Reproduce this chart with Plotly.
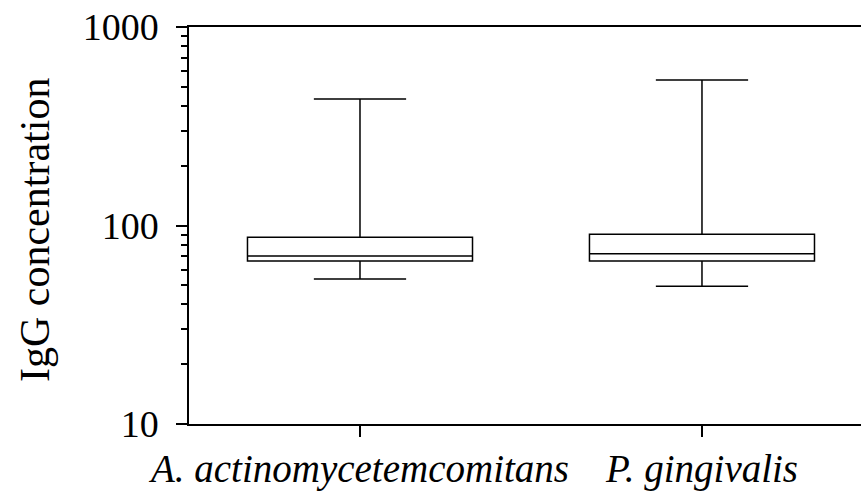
import plotly.graph_objects as go

categories = ["A. actinomycetemcomitans", "P. gingivalis"]
lower_whisker = [53.8, 49.4]
q1_values = [66.2, 66.2]
median_values = [70.2, 72.1]
q3_values = [87.2, 90.3]
upper_whisker = [434, 541]
y_tick_values = [10, 100, 1000]
y_tick_labels = ["10", "100", "1000"]
y_minor_values = [v * d for d in (10, 100) for v in range(2, 10)]

FONT = "Liberation Serif"

fig = go.Figure()
fig.add_trace(go.Box(
    x=categories,
    q1=q1_values,
    median=median_values,
    q3=q3_values,
    lowerfence=lower_whisker,
    upperfence=upper_whisker,
    width=0.658,
    whiskerwidth=0.41,
    fillcolor="white",
    line=dict(color="black", width=1.5),
    boxpoints=False,
    showlegend=False,
))

fig.update_layout(
    width=861, height=495,
    margin=dict(l=189, r=0, t=27, b=71),
    plot_bgcolor="white", paper_bgcolor="white",
    font=dict(family=FONT, color="black"),
    xaxis=dict(
        type="category",
        range=[-0.5, 1.465],
        tickvals=categories,
        ticktext=["<i>" + c + "</i>" for c in categories],
        ticks="outside", ticklen=11, tickwidth=1.5, tickcolor="black",
        showline=True, linecolor="black", linewidth=1.5, mirror=True,
        showgrid=False, zeroline=False,
        tickfont=dict(family=FONT, size=39, color="black"),
        ticklabelstandoff=-2,
    ),
    yaxis=dict(
        type="log",
        range=[1, 3],
        tickvals=y_tick_values,
        ticktext=y_tick_labels,
        ticks="outside", ticklen=11, tickwidth=1.5, tickcolor="black",
        minor=dict(tickvals=y_minor_values, ticks="outside", ticklen=6,
                   tickwidth=1.5, tickcolor="black", showgrid=False),
        showline=True, linecolor="black", linewidth=1.5,
        showgrid=False, zeroline=False,
        tickfont=dict(family=FONT, size=38, color="black"),
        ticklabelstandoff=10,
    ),
    annotations=[dict(
        text="IgG concentration",
        xref="paper", yref="paper",
        x=(35 - 189) / 672, y=(424 - 230) / 397,
        xanchor="center", yanchor="middle",
        textangle=-90, showarrow=False,
        font=dict(family=FONT, size=42, color="black"),
    )],
)

fig.write_html(
    "out.html",
    config={"displayModeBar": False},
    post_script="document.body.style.margin='0';document.body.style.overflow='hidden';",
)
